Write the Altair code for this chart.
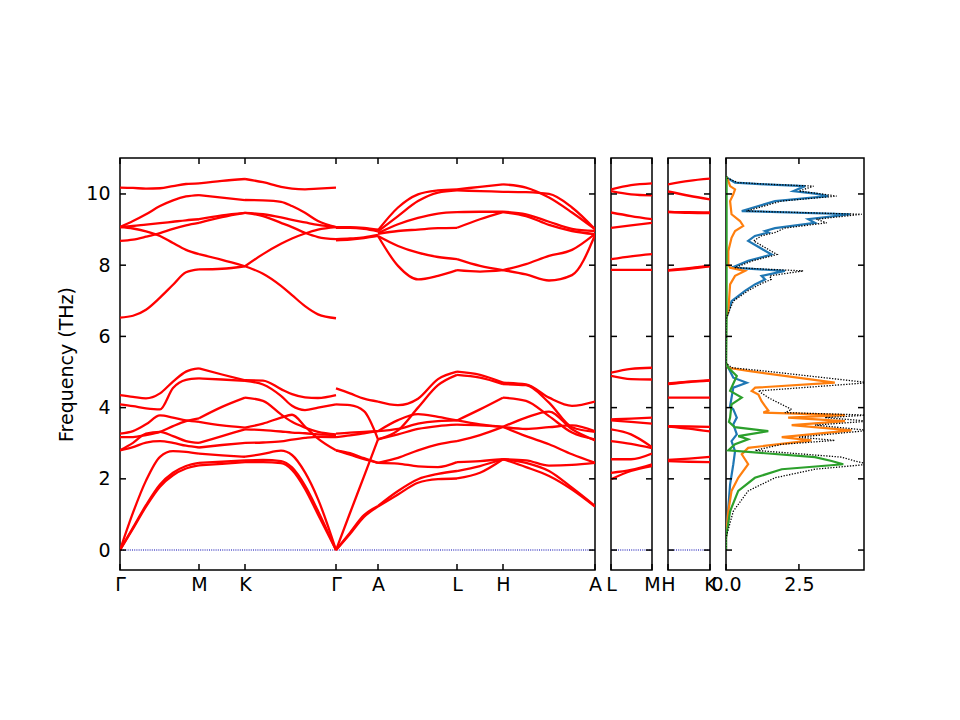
import altair as alt
import pandas as pd

# ---------------- k-path ticks ----------------
K1_POS = [0, 79, 125, 216, 258, 337, 383, 475]
K1_LAB = ["Γ", "M", "K", "Γ", "A", "L", "H", "A"]
K2_POS = [0, 41]
K2_LAB = ["L", "M"]
K3_POS = [0, 42]
K3_LAB = ["H", "K"]
Y_TICKS = [0, 2, 4, 6, 8, 10]
DOS_TICKS = [0.0, 2.5]
Y_MIN, Y_MAX = -0.56, 11.01
DOS_MAX = 4.73

# ---------------- band segments (frequencies in THz) ----------------
GM_X = [0, 13, 26, 40, 53, 66, 79]
GM_BANDS = [
    [10.18, 10.17, 10.15, 10.16, 10.22, 10.28, 10.30],
    [9.07, 9.24, 9.43, 9.66, 9.82, 9.93, 9.97],
    [9.07, 9.10, 9.14, 9.18, 9.22, 9.26, 9.29],
    [8.68, 8.72, 8.80, 8.90, 9.02, 9.12, 9.19],
    [9.07, 9.03, 8.95, 8.82, 8.62, 8.43, 8.31],
    [6.53, 6.58, 6.75, 7.09, 7.45, 7.80, 7.88],
    [4.35, 4.30, 4.26, 4.40, 4.73, 5.01, 5.10],
    [4.09, 4.04, 3.98, 3.95, 4.55, 4.78, 4.82],
    [3.27, 3.34, 3.53, 3.78, 3.72, 3.64, 3.60],
    [3.17, 3.17, 3.23, 3.32, 3.48, 3.62, 3.70],
    [2.80, 3.01, 3.27, 3.32, 3.20, 3.06, 3.01],
    [2.80, 2.89, 3.02, 3.06, 3.01, 2.93, 2.88],
    [0.00, 1.05, 1.95, 2.62, 2.78, 2.76, 2.71],
    [0.00, 0.63, 1.26, 1.84, 2.17, 2.36, 2.45],
    [0.00, 0.60, 1.22, 1.78, 2.10, 2.29, 2.38],
]
MK_X = [79, 102, 125]
MK_BANDS = [
    [10.30, 10.37, 10.42],
    [9.97, 9.90, 9.83],
    [9.29, 9.40, 9.47],
    [9.19, 9.35, 9.47],
    [8.31, 8.15, 7.97],
    [7.88, 7.90, 7.97],
    [5.10, 4.93, 4.77],
    [4.82, 4.79, 4.75],
    [3.70, 4.02, 4.28],
    [3.60, 3.50, 3.44],
    [3.01, 3.20, 3.39],
    [2.88, 2.95, 3.01],
    [2.71, 2.66, 2.62],
    [2.45, 2.48, 2.52],
    [2.38, 2.42, 2.47],
]
KG_X = [125, 143, 161, 172, 185, 198, 216]
KG_BANDS = [
    [10.42, 10.33, 10.20, 10.15, 10.13, 10.15, 10.18],
    [9.83, 9.82, 9.78, 9.66, 9.47, 9.24, 9.07],
    [9.47, 9.43, 9.34, 9.27, 9.20, 9.13, 9.07],
    [9.47, 9.38, 9.19, 9.07, 8.91, 8.79, 8.73],
    [7.97, 8.31, 8.60, 8.75, 8.89, 9.00, 9.07],
    [7.97, 7.76, 7.42, 7.16, 6.85, 6.62, 6.51],
    [4.77, 4.76, 4.52, 4.38, 4.29, 4.27, 4.35],
    [4.75, 4.65, 4.33, 4.05, 3.93, 4.00, 4.09],
    [4.28, 4.19, 3.81, 3.60, 3.44, 3.32, 3.25],
    [3.44, 3.55, 3.72, 3.80, 3.47, 3.13, 2.80],
    [3.39, 3.37, 3.33, 3.30, 3.28, 3.25, 3.23],
    [3.01, 3.02, 3.05, 3.10, 3.15, 3.18, 3.17],
    [2.62, 2.70, 2.79, 2.67, 2.18, 1.43, 0.00],
    [2.52, 2.53, 2.50, 2.32, 1.81, 1.10, 0.00],
    [2.47, 2.47, 2.44, 2.25, 1.72, 1.00, 0.00],
]
GA_X = [216, 230, 244, 258]
GA_BANDS = [
    [9.07, 9.07, 9.05, 9.00],
    [9.05, 9.05, 9.02, 8.95],
    [8.73, 8.75, 8.78, 8.85],
    [8.70, 8.72, 8.76, 8.82],
    [4.54, 4.40, 4.25, 4.17],
    [4.09, 4.07, 3.90, 3.11],
    [3.27, 3.30, 3.32, 3.34],
    [3.17, 3.22, 3.28, 3.34],
    [2.80, 2.72, 2.58, 2.45],
    [2.80, 2.68, 2.55, 2.45],
    [0.00, 1.04, 2.07, 3.11],
    [0.00, 0.49, 0.98, 1.24],
    [0.00, 0.45, 0.93, 1.22],
]
AL_X = [258, 278, 298, 318, 337]
AL_BANDS = [
    [8.98, 9.62, 9.99, 10.10, 10.13],
    [8.95, 9.38, 9.80, 10.04, 10.10],
    [8.90, 9.15, 9.33, 9.45, 9.49],
    [8.88, 8.96, 9.00, 9.04, 9.05],
    [8.82, 8.54, 8.35, 8.23, 8.17],
    [8.82, 7.98, 7.60, 7.70, 7.86],
    [4.17, 4.07, 4.25, 4.80, 5.01],
    [3.11, 3.36, 4.00, 4.63, 4.92],
    [3.34, 3.65, 3.82, 3.74, 3.64],
    [3.34, 3.40, 3.55, 3.62, 3.64],
    [3.11, 3.25, 3.40, 3.48, 3.52],
    [2.45, 2.59, 2.80, 2.97, 3.06],
    [2.45, 2.43, 2.35, 2.33, 2.47],
    [1.24, 1.66, 1.99, 2.14, 2.22],
    [1.22, 1.56, 1.89, 1.99, 2.01],
]
LH_X = [337, 360, 383]
LH_BANDS = [
    [10.13, 10.20, 10.27],
    [10.10, 10.08, 10.06],
    [9.49, 9.50, 9.50],
    [9.05, 9.29, 9.49],
    [8.17, 7.98, 7.86],
    [7.86, 7.82, 7.86],
    [5.01, 4.92, 4.70],
    [4.92, 4.84, 4.66],
    [3.64, 3.53, 3.46],
    [3.64, 3.95, 4.28],
    [3.52, 3.50, 3.46],
    [3.06, 3.23, 3.46],
    [2.47, 2.50, 2.55],
    [2.22, 2.36, 2.55],
    [2.01, 2.17, 2.55],
]
HA_X = [383, 406, 429, 452, 475]
HA_BANDS = [
    [10.27, 10.18, 9.90, 9.48, 9.01],
    [10.06, 10.05, 10.00, 9.62, 9.01],
    [9.50, 9.43, 9.22, 9.02, 8.96],
    [9.49, 9.38, 9.13, 8.96, 8.87],
    [7.86, 8.03, 8.26, 8.43, 8.88],
    [7.86, 7.74, 7.57, 7.72, 8.85],
    [4.70, 4.65, 4.28, 4.05, 4.17],
    [4.66, 4.63, 4.14, 3.45, 3.32],
    [4.28, 4.19, 3.76, 3.30, 3.11],
    [3.46, 3.72, 3.89, 3.39, 3.08],
    [3.46, 3.20, 2.97, 2.69, 2.45],
    [3.46, 3.40, 3.45, 3.50, 3.34],
    [2.55, 2.52, 2.37, 2.39, 2.45],
    [2.55, 2.45, 2.22, 1.75, 1.24],
    [2.55, 2.33, 2.08, 1.70, 1.22],
]
LM_X = [0, 20, 41]
LM_BANDS = [
    [10.13, 10.25, 10.30],
    [10.08, 9.99, 9.96],
    [9.48, 9.38, 9.29],
    [9.05, 9.12, 9.19],
    [8.17, 8.25, 8.31],
    [7.87, 7.87, 7.87],
    [4.98, 5.09, 5.12],
    [4.89, 4.80, 4.79],
    [3.67, 3.69, 3.72],
    [3.64, 3.60, 3.55],
    [3.39, 3.25, 2.89],
    [3.06, 2.98, 2.86],
    [2.55, 2.55, 2.71],
    [2.17, 2.25, 2.41],
    [1.99, 2.22, 2.36],
]
HK_X = [0, 21, 42]
HK_BANDS = [
    [10.27, 10.37, 10.43],
    [10.07, 9.95, 9.85],
    [9.49, 9.49, 9.48],
    [9.50, 9.47, 9.46],
    [7.86, 7.92, 7.98],
    [7.85, 7.90, 7.97],
    [4.66, 4.72, 4.76],
    [4.68, 4.73, 4.77],
    [4.28, 4.28, 4.28],
    [3.48, 3.47, 3.46],
    [3.47, 3.41, 3.33],
    [2.53, 2.57, 2.62],
    [2.50, 2.48, 2.47],
]

# ---------------- phonon DOS (frequency, density) ----------------
BLUE_F = [0.0, 0.35, 1.19, 1.84, 2.41, 2.78, 3.06, 3.25, 3.53, 3.72, 3.95, 4.04, 4.56, 4.70, 4.84, 5.12, 5.25,
          6.50, 6.62, 6.99, 7.28, 7.46, 7.60, 7.70, 7.84, 7.93, 8.12, 8.30, 8.68, 8.82, 8.92, 8.96, 9.04, 9.19,
          9.29, 9.43, 9.52, 9.80, 9.94, 10.01, 10.08, 10.22, 10.27, 10.32, 10.44, 10.50]
BLUE_D = [0.0, 0.0, 0.08, 0.14, 0.25, 0.31, 0.19, 0.37, 0.25, 0.37, 0.25, 0.14, 0.25, 0.71, 0.25, 0.08, 0.0,
          0.0, 0.06, 0.19, 0.65, 0.99, 1.34, 1.22, 2.02, 0.19, 0.76, 1.56, 0.76, 0.99, 1.45, 1.34, 1.68, 3.05,
          2.82, 4.25, 0.54, 1.68, 3.50, 3.05, 2.31, 2.71, 1.34, 0.31, 0.06, 0.0]
ORANGE_F = [0.0, 0.35, 1.09, 1.66, 2.03, 2.41, 2.69, 2.87, 3.08, 3.17, 3.36, 3.51, 3.62, 3.72, 3.79, 3.86, 3.92,
            4.04, 4.18, 4.37, 4.47, 4.56, 4.70, 5.03, 5.12, 5.25,
            6.50, 6.71, 7.46, 7.70, 7.84, 7.93, 8.02, 8.40, 8.77, 8.96, 9.10, 9.24, 9.43, 9.80, 9.99, 10.13,
            10.22, 10.41, 10.50]
ORANGE_D = [0.0, 0.0, 0.08, 0.19, 0.42, 0.76, 0.54, 0.76, 2.93, 1.91, 4.30, 2.25, 4.08, 2.13, 4.08, 1.28, 1.45,
            1.34, 1.22, 1.11, 0.88, 1.00, 3.73, 0.76, 0.08, 0.0,
            0.0, 0.08, 0.14, 0.31, 0.65, 0.14, 0.08, 0.08, 0.19, 0.31, 0.59, 0.48, 0.19, 0.14, 0.25, 0.31,
            0.14, 0.06, 0.0]
GREEN_F = [0.0, 0.35, 1.09, 1.66, 2.03, 2.27, 2.41, 2.50, 2.61, 2.80, 2.97, 3.11, 3.20, 3.34, 3.45, 3.60, 3.72,
           4.09, 4.28, 4.47, 4.89, 5.12, 5.25, 6.50, 10.45, 10.50]
GREEN_D = [0.0, 0.0, 0.14, 0.42, 0.99, 1.91, 4.02, 3.62, 3.05, 0.08, 0.31, 0.76, 0.42, 1.45, 0.30, 0.10, 0.14,
           0.19, 0.54, 0.14, 0.37, 0.08, 0.0, 0.02, 0.02, 0.0]
TOTAL_F = [0.0, 0.35, 1.09, 1.66, 2.03, 2.27, 2.41, 2.50, 2.61, 2.80, 2.97, 3.08, 3.17, 3.36, 3.51, 3.62, 3.72,
           3.79, 3.86, 3.95, 4.09, 4.28, 4.47, 4.70, 5.03, 5.12, 5.25,
           6.50, 6.62, 6.99, 7.28, 7.46, 7.60, 7.70, 7.84, 7.93, 8.12, 8.30, 8.68, 8.82, 8.92, 9.04, 9.19, 9.29,
           9.43, 9.52, 9.80, 9.94, 10.01, 10.08, 10.22, 10.27, 10.32, 10.44, 10.50]
TOTAL_D = [0.0, 0.0, 0.25, 0.76, 1.68, 3.05, 4.90, 4.42, 3.96, 1.00, 1.91, 3.73, 2.48, 4.90, 3.05, 4.90, 3.39,
           4.90, 2.02, 2.25, 1.91, 1.45, 1.11, 4.90, 1.30, 0.20, 0.0,
           0.0, 0.06, 0.25, 0.75, 1.15, 1.55, 1.50, 2.65, 0.30, 0.90, 1.75, 0.95, 1.20, 1.70, 2.00, 3.45, 3.10,
           4.65, 0.70, 1.90, 3.79, 3.20, 2.50, 3.00, 1.50, 0.40, 0.06, 0.0]

FONT = "DejaVu Sans"
FS = 19
BAND_COLOR = "#ff0000"
H = 412


def band_frame(segments):
    rows = []
    for name, xs, bands in segments:
        for bi, vals in enumerate(bands):
            for x, v in zip(xs, vals):
                rows.append({"seg": f"{name}-{bi}", "x": x, "f": v})
    return pd.DataFrame(rows)


def label_expr(pos, lab):
    labs = ",".join(f"'{s}'" for s in lab)
    ps = ",".join(str(p) for p in pos)
    return f"[{labs}][indexof([{ps}], datum.value)]"


yscale = alt.Scale(domain=[Y_MIN, Y_MAX], nice=False, zero=False)


def make_y_axis(show):
    if show:
        return alt.Axis(values=Y_TICKS, title="Frequency (THz)", ticks=False, domain=False, grid=False,
                        labelPadding=10, titlePadding=9, format="d")
    return alt.Axis(values=Y_TICKS, title=None, labels=False, ticks=False, domain=False, grid=False)


def panel(main_layers_fn, width, xticks, xscale, xaxis, yaxis):
    """Build a panel: data layers + inward tick rules, all sharing identical axes."""
    X = lambda field: alt.X(field, scale=xscale, axis=xaxis)
    Y = lambda field: alt.Y(field, scale=yscale, axis=yaxis)
    ydf = pd.DataFrame({"v": Y_TICKS})
    xdf = pd.DataFrame({"v": xticks})
    rule = dict(color="black", strokeWidth=1.5)
    ticks = [
        alt.Chart(ydf).mark_rule(**rule).encode(y=Y("v:Q"), x=alt.value(0), x2=alt.value(6)),
        alt.Chart(ydf).mark_rule(**rule).encode(y=Y("v:Q"), x=alt.value(width - 6), x2=alt.value(width)),
        alt.Chart(xdf).mark_rule(**rule).encode(x=X("v:Q"), y=alt.value(0), y2=alt.value(6)),
        alt.Chart(xdf).mark_rule(**rule).encode(x=X("v:Q"), y=alt.value(H - 6), y2=alt.value(H)),
    ]
    return alt.layer(*(main_layers_fn(X, Y) + ticks)).properties(width=width, height=H)


def band_panel(df, width, kpos, klab, show_y):
    xscale = alt.Scale(domain=[kpos[0], kpos[-1]], nice=False, zero=False)
    xaxis = alt.Axis(values=kpos, labelExpr=label_expr(kpos, klab), title=None, ticks=False,
                     domain=False, grid=False, labelFlush=False, labelOverlap=False, labelPadding=5)
    yaxis = make_y_axis(show_y)

    def layers(X, Y):
        zero = alt.Chart(pd.DataFrame({"z": [0.0]})).mark_rule(
            color="#0000b0", strokeWidth=1.1, strokeDash=[1, 1.2]
        ).encode(y=Y("z:Q"))
        lines = alt.Chart(df).mark_line(
            color=BAND_COLOR, strokeWidth=2.3, interpolate="monotone", clip=True
        ).encode(x=X("x:Q"), y=Y("f:Q"), detail="seg:N")
        return [zero, lines]

    return panel(layers, width, kpos, xscale, xaxis, yaxis)


df1 = band_frame([
    ("GM", GM_X, GM_BANDS), ("MK", MK_X, MK_BANDS), ("KG", KG_X, KG_BANDS),
    ("GA", GA_X, GA_BANDS), ("AL", AL_X, AL_BANDS), ("LH", LH_X, LH_BANDS), ("HA", HA_X, HA_BANDS),
])
df2 = band_frame([("LM", LM_X, LM_BANDS)])
df3 = band_frame([("HK", HK_X, HK_BANDS)])

p1 = band_panel(df1, 475, K1_POS, K1_LAB, True)
p2 = band_panel(df2, 41, K2_POS, K2_LAB, False)
p3 = band_panel(df3, 42, K3_POS, K3_LAB, False)

# DOS panel
rows = []
for name, fs, ds in [("total", TOTAL_F, TOTAL_D), ("p0", BLUE_F, BLUE_D),
                     ("p1", ORANGE_F, ORANGE_D), ("p2", GREEN_F, GREEN_D)]:
    for i, (f, d) in enumerate(zip(fs, ds)):
        rows.append({"curve": name, "f": f, "d": d, "i": i})
dos = pd.DataFrame(rows)

W4 = 138
dscale = alt.Scale(domain=[0, DOS_MAX], nice=False, zero=False)
daxis = alt.Axis(values=DOS_TICKS, format=".1f", title=None, ticks=False, domain=False, grid=False,
                 labelFlush=False, labelOverlap=False, labelPadding=5)


def dos_layers(X, Y):
    partials = alt.Chart(dos[dos.curve != "total"]).mark_line(strokeWidth=2.2, clip=True).encode(
        x=X("d:Q"), y=Y("f:Q"),
        color=alt.Color("curve:N", scale=alt.Scale(domain=["p0", "p1", "p2"],
                                                   range=["#1f77b4", "#ff7f0e", "#2ca02c"]), legend=None),
        order=alt.Order("i:Q"),
    )
    total = alt.Chart(dos[dos.curve == "total"]).mark_line(
        strokeWidth=1.3, color="black", strokeDash=[1.3, 1.5], clip=True
    ).encode(x=X("d:Q"), y=Y("f:Q"), order=alt.Order("i:Q"))
    return [partials, total]


p4 = panel(dos_layers, W4, DOS_TICKS, dscale, daxis, make_y_axis(False))

chart = alt.hconcat(p1, p2, p3, p4, spacing=16, bounds="flush").properties(
    padding={"left": 49, "top": 148, "right": 5, "bottom": 5}
).configure_view(
    stroke="black", strokeWidth=1.5
).configure_axis(
    labelFont=FONT, labelFontSize=FS, labelColor="black",
    titleFont=FONT, titleFontSize=FS, titleColor="black", titleFontWeight="normal",
)

chart.save("out.html", embed_options={"renderer": "svg", "actions": False})
